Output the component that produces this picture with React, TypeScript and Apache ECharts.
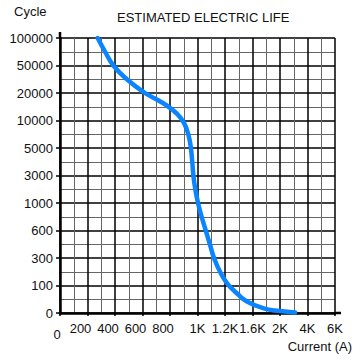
import React, { useEffect, useRef } from "react";
import * as echarts from "echarts";

const xLabels = ["0", "200", "400", "600", "800", "1K", "1.2K", "1.6K", "2K", "4K", "6K"];
const yLabels = ["0", "100", "300", "600", "1000", "3000", "5000", "10000", "20000", "50000", "100000"];

// curve position in grid units (x index along current labels, y index along cycle labels)
const curveX = [1.37, 1.64, 1.94, 2.43, 3.09, 3.6, 4.05, 4.4, 4.6, 4.73, 4.8, 4.85, 4.92, 5.02, 5.15, 5.3, 5.45, 5.6, 5.82, 6.1, 6.45, 6.8, 7.38, 8.0, 8.55];
const curveY = [10.0, 9.5, 9.0, 8.5, 8.0, 7.72, 7.42, 7.08, 6.7, 6.2, 5.6, 5.0, 4.5, 4.0, 3.5, 3.0, 2.5, 2.0, 1.5, 1.05, 0.7, 0.42, 0.18, 0.07, 0.02];

export default function App() {
  const ref = useRef<HTMLDivElement>(null);
  useEffect(() => {
    if (!ref.current) return;
    const chart = echarts.init(ref.current, undefined, { renderer: "svg" });
    const font = "Liberation Sans, Arial, sans-serif";
    const data = curveX.map((x, i) => [x, curveY[i]]);
    chart.setOption({
      animation: false,
      backgroundColor: "#fff",
      title: {
        text: "ESTIMATED ELECTRIC LIFE",
        left: 112,
        top: 6,
        textStyle: { fontFamily: font, fontSize: 13, fontWeight: "normal", color: "#111" },
      },
      grid: { left: 60, right: 25, top: 38, bottom: 47 },
      xAxis: {
        type: "value",
        min: 0,
        max: 10,
        interval: 1,
        axisLine: { show: true, lineStyle: { color: "#000", width: 2.5 } },
        axisTick: { show: true, length: 3, lineStyle: { color: "#000", width: 1.5 } },
        axisLabel: {
          fontFamily: font,
          fontSize: 13,
          color: "#111",
          margin: 9,
          formatter: (v: number) => {
            if (!Number.isInteger(v)) return "";
            if (v === 0) return "{z|" + xLabels[v] + "}";
            if (v >= 1 && v <= 4) return "{l|" + xLabels[v] + "}";
            return xLabels[v];
          },
          rich: {
            z: { fontFamily: font, fontSize: 13, color: "#111", padding: [6, 6, 0, 0] },
            l: { fontFamily: font, fontSize: 13, color: "#111", padding: [0, 14, 0, 0] },
          },
        },
        splitLine: { show: true, lineStyle: { color: "#000", width: 1.5 } },
        minorTick: { show: false, splitNumber: 2 },
        minorSplitLine: { show: true, lineStyle: { color: "#666", width: 1 } },
      },
      yAxis: {
        type: "value",
        min: 0,
        max: 10,
        interval: 1,
        axisLine: { show: true, lineStyle: { color: "#000", width: 2.5 } },
        axisTick: { show: true, length: 4, lineStyle: { color: "#000", width: 1.5 } },
        axisLabel: {
          fontFamily: font,
          fontSize: 13,
          color: "#111",
          margin: 7,
          formatter: (v: number) => (Number.isInteger(v) ? yLabels[v] : ""),
        },
        splitLine: { show: true, lineStyle: { color: "#000", width: 1.5 } },
        minorTick: { show: false, splitNumber: 2 },
        minorSplitLine: { show: true, lineStyle: { color: "#666", width: 1 } },
      },
      graphic: [
        { type: "text", left: 14, top: 5, style: { text: "Cycle", font: "13px " + font, fill: "#111" } },
        { type: "text", right: 8, top: 340, style: { text: "Current (A)", font: "13px " + font, fill: "#111" } },
        { type: "line", shape: { x1: 60, y1: 32, x2: 60, y2: 38 }, style: { stroke: "#000", lineWidth: 2.5 } },
        { type: "line", shape: { x1: 335, y1: 313, x2: 341, y2: 313 }, style: { stroke: "#000", lineWidth: 2.5 } },
      ],
      series: [
        {
          type: "line",
          data,
          smooth: 0.5,
          showSymbol: false,
          lineStyle: { color: "#0a84ff", width: 4.5, cap: "round" },
          z: 5,
        },
      ],
    });
    return () => chart.dispose();
  }, []);
  return <div ref={ref} style={{ width: 360, height: 360, position: "absolute", left: 0, top: 0 }} />;
}
